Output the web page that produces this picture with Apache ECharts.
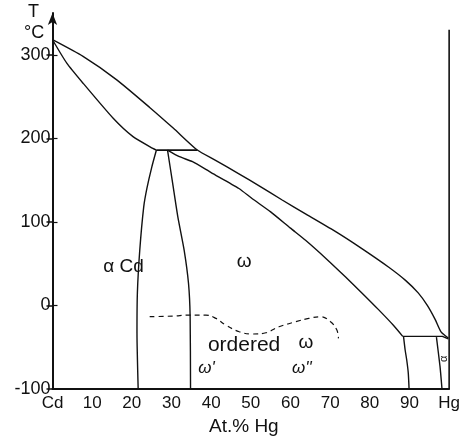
<!DOCTYPE html>
<html>
<head>
<meta charset="utf-8">
<script src="https://cdn.jsdelivr.net/npm/echarts@6/dist/echarts.min.js"></script>
<style>html,body{margin:0;padding:0;background:#fff;}#c{width:463px;height:443px;}</style>
</head>
<body>
<div id="c"></div>
<script>
// Tick labels
const xTicks = [0,10,20,30,40,50,60,70,80,90,100];
const xTickNames = {0:'Cd',100:'Hg'};
const yTicks = [-100,0,100,200,300];

// Phase boundaries: [at.% Hg, T °C]
const liquidus = [[0,318],[7.7,298],[16.2,270],[24.5,237],[30.5,212],[36.5,186],[41,174],[47,157.5],[52,143.5],[57.8,126.5],[64,109],[71.5,88],[78,68],[84.7,46],[89,30],[92.2,15],[94.5,0],[96.5,-17],[98,-32],[99.8,-39]];
const cdSolidus = [[0,318],[3.6,290],[7.7,266],[15.3,224],[20.3,202],[25.3,188],[26.2,186]];
const peritectic = [[26.2,186],[36.5,186]];
const cdSolvus = [[26.2,186],[25.0,165],[23.8,140],[23.0,118],[22.0,66],[21.4,15],[21.3,-33],[21.6,-100]];
const omegaPrimeBoundary = [[29.0,186],[30.3,146],[31.6,106],[33.2,66],[34.3,26],[34.7,-13],[34.8,-100]];
const omegaSolidus = [[29.0,186],[32,178],[35.3,172],[40,159],[47,140],[50.3,128],[55,112],[60,92.5],[63.8,78],[69,56],[73.9,34],[78,15],[82.2,-5],[86,-24],[88.3,-37]];
const lowInvariant = [[88.3,-37],[98.3,-37],[99.8,-40]];
const omegaHgBoundary = [[88.5,-37],[88.9,-53],[89.3,-65],[89.7,-81],[89.9,-100]];
const alphaHgBoundary = [[96.8,-38],[97.7,-73],[98.2,-100]];
const hgEdge = [[100,-100],[100,330]];
const orderingLine = [[24.5,-13.5],[30.3,-12.7],[34.5,-11.5],[38.7,-11.5],[41.2,-15.5],[43.7,-23.5],[47.1,-31.5],[50.4,-34.2],[53.8,-32.7],[57.1,-25.5],[61.3,-19.5],[64.6,-15.5],[67.6,-13.5],[70.1,-19.5],[71.7,-29.5],[72.1,-39.4]];

// Region labels: [at.% Hg, T, text]
const regionLabels = [[17.9,46,'α Cd'],[48.3,52,'ω'],[63.9,-45,'ω']];
const orderedLabel = [[48.3,-47,'ordered']];
const smallLabels = [[38.8,-75,"ω'"],[62.9,-75,"ω''"]];
const hgAlpha = [[98.7,-64,'α']];

const chart = echarts.init(document.getElementById('c'));
const FONT = 'Liberation Sans';
const INK = '#111';
function lineSeries(data, smooth, dashed, w) {
  return {type:'line', data:data, symbol:'none', smooth:smooth, silent:true, animation:false,
    lineStyle:{color:INK, width:w||1.4, type: dashed ? [5,4] : 'solid'}, z:3};
}
function labelSeries(arr, size, style, rotate) {
  return {type:'scatter', symbolSize:0, silent:true, animation:false,
    itemStyle:{opacity:1, color:INK},
    data: arr.map(d => ({value:[d[0],d[1]], name:d[2]})),
    label:{show:true, position:'inside', formatter: p => p.name, color:INK, opacity:1,
      textBorderWidth:0, textBorderColor:'transparent',
      fontFamily:FONT, fontSize:size, fontStyle:style||'normal', rotate: rotate||0}};
}
chart.setOption({
  animation:false,
  grid:{left:52.5, right:12, top:13, bottom:54},
  xAxis:{type:'value', min:0, max:100, interval:10,
    axisLine:{show:true, onZero:false, lineStyle:{color:INK, width:2}},
    axisTick:{show:false}, splitLine:{show:false},
    axisLabel:{customValues:xTicks, formatter: v => xTickNames[v] || String(v), color:INK, fontFamily:FONT, fontSize:17, margin:6}},
  yAxis:[{type:'value', min:-100, max:350, interval:100,
    axisLine:{show:true, onZero:false, symbol:['none','arrow'], symbolSize:[7,12], lineStyle:{color:INK, width:2}},
    axisTick:{show:true, customValues:yTicks, length:6, lineStyle:{color:INK, width:1.5}},
    splitLine:{show:false},
    axisLabel:{customValues:yTicks, color:INK, fontFamily:FONT, fontSize:18, margin:2}},
   {type:'value', position:'right', min:-100, max:350, interval:100,
    axisLine:{show:true, lineStyle:{color:INK, opacity:0}},
    axisTick:{show:true, customValues:[0,100,200,300], length:5, lineStyle:{color:INK, width:1.2}},
    axisLabel:{show:false}, splitLine:{show:false}}],
  graphic:[
    {type:'text', left:28, top:3, style:{text:'T', font:'18px "Liberation Sans"', fill:INK}},
    {type:'text', left:24, top:24, style:{text:'°C', font:'18px "Liberation Sans"', fill:INK}},
    {type:'text', left:209, top:417, style:{text:'At.% Hg', font:'19px "Liberation Sans"', fill:INK}}
  ],
  series:[
    lineSeries(liquidus, 0.2),
    lineSeries(cdSolidus, 0.2),
    lineSeries(peritectic, false, false, 1.8),
    lineSeries(cdSolvus, 0.2),
    lineSeries(omegaPrimeBoundary, 0.2),
    lineSeries(omegaSolidus, 0.2),
    lineSeries(lowInvariant, false),
    lineSeries(omegaHgBoundary, 0.2),
    lineSeries(alphaHgBoundary, 0.2),
    lineSeries(hgEdge, false, false, 1.6),
    lineSeries(orderingLine, 0.4, true, 1.2),
    labelSeries(regionLabels, 19),
    labelSeries(orderedLabel, 21),
    labelSeries(smallLabels, 17, 'italic'),
    labelSeries(hgAlpha, 11, 'normal', 90)
  ]
});
</script>
</body>
</html>
